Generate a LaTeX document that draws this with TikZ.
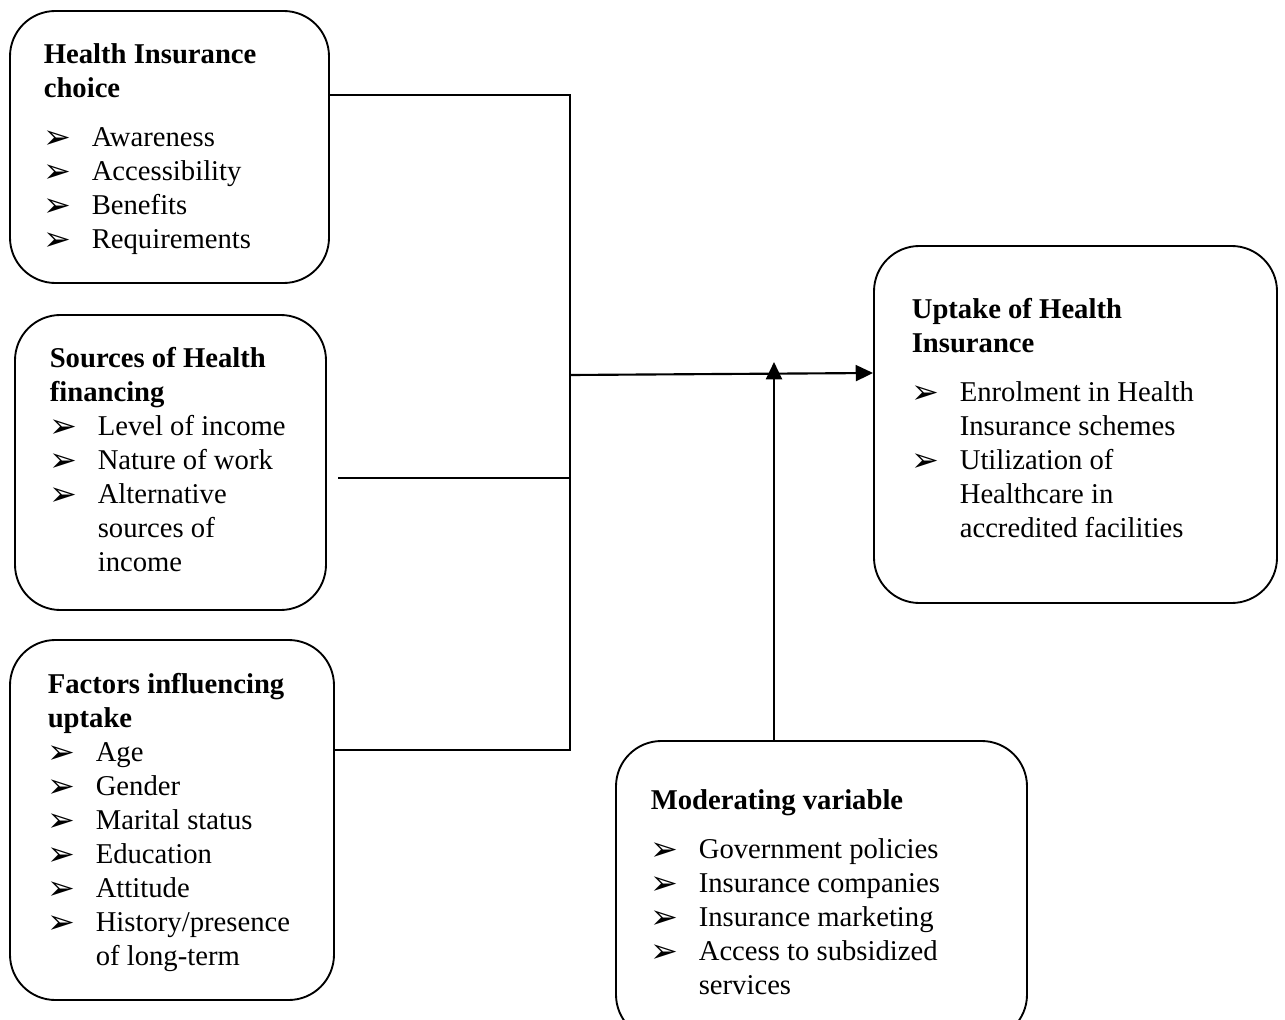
\documentclass[tikz,border=0pt]{standalone}
\usepackage{fontspec}
\setmainfont{Liberation Serif}
\newfontfamily\symfont{DejaVu Sans}
\usetikzlibrary{arrows.meta}
\tikzset{every picture/.style={line width=1.1pt}}

\newcommand\bul{\raisebox{-1pt}[0pt][0pt]{\symfont\fontsize{25}{25}\selectfont ➢}}
\newcommand\itm[1]{\makebox[36pt][l]{\bul}#1}
\newcommand\cnt[1]{\hspace*{36pt}#1}

\begin{document}
\begin{tikzpicture}[x=0.75pt,y=-0.75pt,
    panel/.style 2 args={draw, line width=1.4pt, rounded corners=34pt, minimum width=#1*0.75pt, minimum height=#2*0.75pt, inner sep=0pt},
    txt/.style={anchor=north west, inner sep=0pt, align=left, font=\fontsize{21.5}{25.5}\selectfont},
    link/.style={line width=1.1pt},
    flow/.style={line width=1.6pt, -{Triangle[length=13pt,width=12pt]}}]
        \useasboundingbox (0,0) rectangle (1285,1020);

        % boxes
        \node[panel={319}{272}] (b1) at (169.5,147) {};
        \node[panel={311}{295}] (b2) at (170.5,462.5) {};
        \node[panel={324}{360}] (b3) at (172,820) {};
        \node[panel={403}{357}] (b4) at (1075.5,424.5) {};
        \node[panel={411}{299}] (b5) at (821.5,890.5) {};

        % texts
        \node[txt] (t1) at ([shift={(34,33)}]b1.north west)
            {\textbf{Health Insurance}\\ \textbf{choice}\\[11.25pt]
             \itm{Awareness}\\ \itm{Accessibility}\\ \itm{Benefits}\\ \itm{Requirements}};
        \node[txt] (t2) at ([shift={(35,33)}]b2.north west)
            {\textbf{Sources of Health}\\ \textbf{financing}\\
             \itm{Level of income}\\ \itm{Nature of work}\\ \itm{Alternative}\\ \cnt{sources of}\\ \cnt{income}};
        \node[txt] (t3) at ([shift={(38,34)}]b3.north west)
            {\textbf{Factors influencing}\\ \textbf{uptake}\\
             \itm{Age}\\ \itm{Gender}\\ \itm{Marital status}\\ \itm{Education}\\ \itm{Attitude}\\ \itm{History/presence}\\ \cnt{of long-term}};
        \node[txt] (t4) at ([shift={(38,53)}]b4.north west)
            {\textbf{Uptake of Health}\\ \textbf{Insurance}\\[11.25pt]
             \itm{Enrolment in Health}\\ \cnt{Insurance schemes}\\ \itm{Utilization of}\\ \cnt{Healthcare in}\\ \cnt{accredited facilities}};
        \node[txt] (t5) at ([shift={(35,49)}]b5.north west)
            {\textbf{Moderating variable}\\[11.25pt]
             \itm{Government policies}\\ \itm{Insurance companies}\\ \itm{Insurance marketing}\\ \itm{Access to subsidized}\\ \cnt{services}};

        % junctions
        \coordinate (jt) at (570,95);
        \coordinate (jb) at (570,750);
        \coordinate (jm) at (570,478);
        \coordinate (m0) at (338,478);
        \coordinate (jo) at (570,375);
        \coordinate (ji) at (877,373);
        \coordinate (jv) at (774,362);

        \draw[link] (b1.east |- jt) -- (jt) -- (jb) -- (b3.east |- jb);
        \draw[link] (m0) -- (jm);
        \draw[flow] (jo) -- (b4.west |- ji);
        \draw[flow] (b5.north -| jv) -- (jv);
    \end{tikzpicture}
\end{document}
